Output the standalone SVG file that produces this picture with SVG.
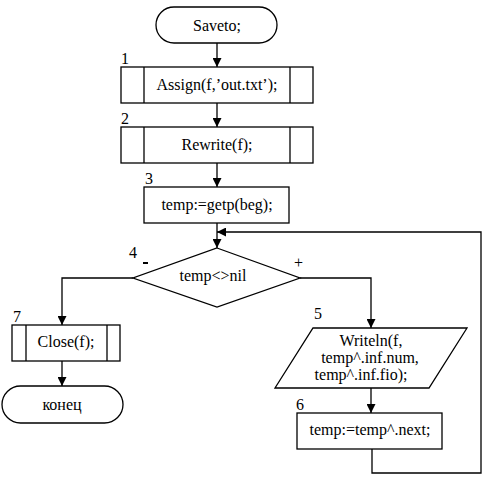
<svg xmlns="http://www.w3.org/2000/svg" width="493" height="488" viewBox="0 0 493 488">
<style>
.s{fill:#fff;stroke:#000;stroke-width:1.3}
.l{fill:none;stroke:#000;stroke-width:1.3}
.t{font-size:16px;fill:#000}
.c{text-anchor:middle}
</style>
<defs>
<marker id="a" viewBox="0 0 10 10" refX="10" refY="5" markerWidth="9" markerHeight="9" markerUnits="userSpaceOnUse" orient="auto">
<path d="M0,0 L10,5 L0,10 z" fill="#000"/>
</marker>
</defs>
<rect width="493" height="488" fill="#fff"/>
<g id="connectors">
<line class="l" x1="217" y1="43" x2="217" y2="67" marker-end="url(#a)"/>
<line class="l" x1="217" y1="103" x2="217" y2="127" marker-end="url(#a)"/>
<line class="l" x1="217" y1="163" x2="217" y2="187" marker-end="url(#a)"/>
<line class="l" x1="217" y1="223" x2="217" y2="248" marker-end="url(#a)"/>
<polyline class="l" points="133,278 62,278 62,325" marker-end="url(#a)"/>
<line class="l" x1="62" y1="361" x2="62" y2="386" marker-end="url(#a)"/>
<polyline class="l" points="300,278 371,278 371,328" marker-end="url(#a)"/>
<line class="l" x1="371" y1="388" x2="371" y2="413" marker-end="url(#a)"/>
<polyline class="l" points="372,449 372,473 481,473 481,232 217,232" marker-end="url(#a)"/>
</g>
<g font-family="Liberation Serif, DejaVu Serif, serif" class="t">
<g id="start">
<rect class="s" x="156" y="7" width="121" height="36" rx="18"/>
<text class="c" x="217" y="31">Saveto;</text>
</g>
<g id="n1">
<rect class="s" x="121" y="67" width="192" height="36"/>
<line class="l" x1="144" y1="67" x2="144" y2="103"/>
<line class="l" x1="290" y1="67" x2="290" y2="103"/>
<text class="c" x="217" y="90">Assign(f,’out.txt’);</text>
<text x="121" y="64">1</text>
</g>
<g id="n2">
<rect class="s" x="121" y="127" width="192" height="36"/>
<line class="l" x1="144" y1="127" x2="144" y2="163"/>
<line class="l" x1="290" y1="127" x2="290" y2="163"/>
<text class="c" x="217" y="150">Rewrite(f);</text>
<text x="121" y="124">2</text>
</g>
<g id="n3">
<rect class="s" x="144" y="187" width="145" height="36"/>
<text class="c" x="217" y="210">temp:=getp(beg);</text>
<text x="145" y="184">3</text>
</g>
<g id="n4">
<polygon class="s" points="217,248 300,278 217,307 133,278"/>
<text class="c" x="213" y="281">temp&lt;&gt;nil</text>
<text x="129" y="258">4</text>
<rect x="143" y="262" width="5" height="2" fill="#000"/>
<text x="294" y="268">+</text>
</g>
<g id="n5">
<polygon class="s" points="313,328 467,328 429,388 275,388"/>
<text class="c" x="371" y="346">Writeln(f,</text>
<text class="c" x="370" y="363">temp^.inf.num,</text>
<text class="c" x="361" y="380">temp^.inf.fio);</text>
<text x="314" y="319">5</text>
</g>
<g id="n6">
<rect class="s" x="297" y="413" width="145" height="36"/>
<text class="c" x="370" y="435">temp:=temp^.next;</text>
<text x="296" y="410">6</text>
</g>
<g id="n7">
<rect class="s" x="12" y="325" width="108" height="36"/>
<line class="l" x1="26" y1="325" x2="26" y2="361"/>
<line class="l" x1="107" y1="325" x2="107" y2="361"/>
<text class="c" x="66" y="347">Close(f);</text>
<text x="13" y="322">7</text>
</g>
<g id="end">
<rect class="s" x="2" y="386" width="121" height="37" rx="18.5"/>
<text class="c" x="62" y="410">конец</text>
</g>
</g>
</svg>
